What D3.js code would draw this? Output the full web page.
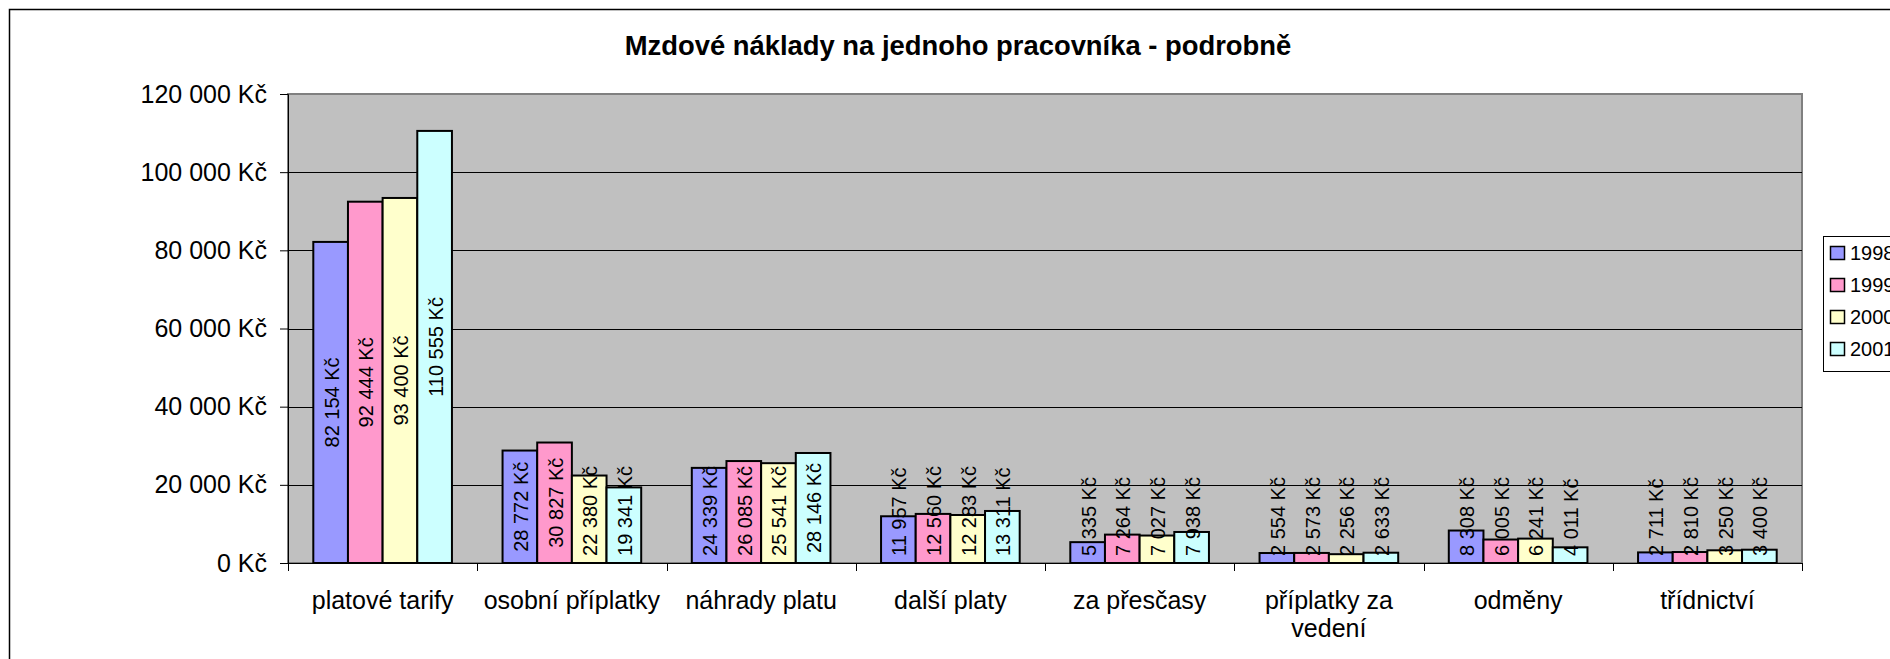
<!DOCTYPE html>
<html>
<head>
<meta charset="utf-8">
<script src="https://cdn.jsdelivr.net/npm/d3@7"></script>
<style>
  body { margin: 0; background: #fff; overflow: hidden; }
  svg { display: block; font-family: "Liberation Sans", Arial, sans-serif; }
</style>
</head>
<body>
<div id="chart"></div>
<script>
// chart data
const categories = ["platové tarify", "osobní příplatky", "náhrady platu", "další platy",
                    "za přesčasy", "příplatky za vedení", "odměny", "třídnictví"];
const years = ["1998", "1999", "2000", "2001"];
const values1998 = [82154, 28772, 24339, 11957, 5335, 2554, 8308, 2711];
const values1999 = [92444, 30827, 26085, 12560, 7264, 2573, 6005, 2810];
const values2000 = [93400, 22380, 25541, 12283, 7027, 2256, 6241, 3250];
const values2001 = [110555, 19341, 28146, 13311, 7938, 2633, 4011, 3400];
const yTicks = [0, 20000, 40000, 60000, 80000, 100000, 120000];
const colors = ["#9999FF", "#FF99CC", "#FFFFCC", "#CCFFFF"];

const series = [values1998, values1999, values2000, values2001];

const width = 1890, height = 659;
const margins = {top: 94, left: 288, right: 88, bottom: 96};
const plotW = width - margins.left - margins.right;   // 1514
const plotH = height - margins.top - margins.bottom;  // 469

// czech style number format: "82 154 Kč"
const cz = d3.formatLocale({decimal: ",", thousands: "\u00a0", grouping: [3], currency: ["", " Kč"]});
const fmt = cz.format("$,.0f");

const svg = d3.select("#chart").append("svg")
    .attr("width", width)
    .attr("height", height);

// chart area frame (runs off the window on the right and bottom)
svg.append("rect")
    .attr("x", 9.5).attr("y", 9.5)
    .attr("width", 2000).attr("height", 1000)
    .attr("fill", "#fff")
    .attr("stroke", "#000")
    .attr("stroke-width", 1.5);

svg.append("text")
    .attr("x", 958)
    .attr("y", 55)
    .attr("text-anchor", "middle")
    .attr("font-size", "27.4px")
    .attr("font-weight", "bold")
    .text("Mzdové náklady na jednoho pracovníka - podrobně");

const x0 = d3.scaleBand()
    .domain(categories)
    .range([0, plotW]);

const x1 = d3.scaleBand()
    .domain(years)
    .range([0, x0.bandwidth()])
    .paddingOuter(0.73);

const y = d3.scaleLinear()
    .domain([0, 120000])
    .range([plotH, 0]);

const g = svg.append("g")
    .attr("transform", "translate(" + margins.left + "," + margins.top + ")");

// plot background
g.append("rect")
    .attr("width", plotW)
    .attr("height", plotH)
    .attr("fill", "#C0C0C0")
    .attr("stroke", "#808080")
    .attr("stroke-width", 2);

// gridlines
g.selectAll(".grid")
    .data(yTicks.filter(t => t > 0 && t < 120000))
    .enter().append("line")
    .attr("x1", 0).attr("x2", plotW)
    .attr("y1", d => Math.round(y(d)) + 0.5)
    .attr("y2", d => Math.round(y(d)) + 0.5)
    .attr("stroke", "#000")
    .attr("stroke-width", 1);

// y axis
const yAxis = g.append("g")
    .call(d3.axisLeft(y).tickValues(yTicks).tickSize(8).tickPadding(13).tickFormat(fmt));
yAxis.select(".domain").attr("stroke", "#000");
yAxis.selectAll("text").attr("font-size", "25px").attr("fill", "#000")
    .attr("font-family", "'Liberation Sans', Arial, sans-serif");

// x axis: labels centred in bands, ticks on the band edges
const xAxis = g.append("g")
    .attr("transform", "translate(0," + plotH + ")")
    .call(d3.axisBottom(x0).tickSize(0));
xAxis.select(".domain").attr("stroke", "#000");
xAxis.selectAll("text")
    .attr("font-size", "25px")
    .attr("fill", "#000")
    .attr("font-family", "'Liberation Sans', Arial, sans-serif")
    .attr("y", 46)
    .attr("dy", null)
    .call(wrap, x0.bandwidth() - 4);

xAxis.selectAll(".edge")
    .data(categories.map(c => x0(c)).concat([plotW]))
    .enter().append("line")
    .attr("x1", d => Math.round(d) + 0.5)
    .attr("x2", d => Math.round(d) + 0.5)
    .attr("y1", 0).attr("y2", 8)
    .attr("stroke", "#000");

// bars
const groups = g.selectAll(".cat")
    .data(categories)
    .enter().append("g")
    .attr("transform", d => "translate(" + x0(d) + ",0)");

const bars = groups.selectAll("rect")
    .data((c, ci) => years.map((yr, si) => ({year: yr, si: si, value: series[si][ci]})))
    .enter().append("rect")
    .attr("x", d => x1(d.year))
    .attr("y", d => y(d.value))
    .attr("width", x1.bandwidth())
    .attr("height", d => plotH - y(d.value))
    .attr("fill", d => colors[d.si])
    .attr("stroke", "#000")
    .attr("stroke-width", 2);

// value labels, vertical, centred in the bar but kept above the axis
groups.selectAll(".lbl")
    .data((c, ci) => years.map((yr, si) => ({year: yr, si: si, value: series[si][ci]})))
    .enter().append("text")
    .attr("font-size", "20px")
    .attr("text-anchor", "middle")
    .attr("dominant-baseline", "central")
    .text(d => fmt(d.value))
    .attr("transform", function (d) {
        let len = this.getComputedTextLength();
        let cx = x1(d.year) + x1.bandwidth() / 2 + 1;
        let mid = (y(d.value) + plotH) / 2;
        let cy = Math.min(mid, plotH - 7 - len / 2);
        return "translate(" + cx + "," + cy + ") rotate(-90)";
    });

// legend
const legend = svg.append("g")
    .attr("transform", "translate(1823,236)");

legend.append("rect")
    .attr("x", 0.5).attr("y", 0.5)
    .attr("width", 200).attr("height", 135)
    .attr("fill", "#fff")
    .attr("stroke", "#000");

const items = legend.selectAll(".item")
    .data(years)
    .enter().append("g")
    .attr("transform", (d, i) => "translate(7," + (17 + i * 32) + ")");

items.append("rect")
    .attr("x", 0.5).attr("y", -6.5)
    .attr("width", 14).attr("height", 13)
    .attr("fill", (d, i) => colors[i])
    .attr("stroke", "#000")
    .attr("stroke-width", 1.5);

items.append("text")
    .attr("x", 20)
    .attr("y", 0)
    .attr("dy", "0.36em")
    .attr("font-size", "20px")
    .text(d => d);

function wrap(text, w) {
    text.each(function () {
        let t = d3.select(this);
        let words = t.text().split(/\s+/);
        let yy = t.attr("y");
        t.text(null);
        let line = [];
        let lineNo = 0;
        let tspan = t.append("tspan").attr("x", 0).attr("y", yy);
        words.forEach(function (word) {
            line.push(word);
            tspan.text(line.join(" "));
            if (tspan.node().getComputedTextLength() > w && line.length > 1) {
                line.pop();
                tspan.text(line.join(" "));
                line = [word];
                lineNo++;
                tspan = t.append("tspan").attr("x", 0).attr("y", yy).attr("dy", (lineNo * 27.5) + "px").text(word);
            }
        });
    });
}
</script>
</body>
</html>
